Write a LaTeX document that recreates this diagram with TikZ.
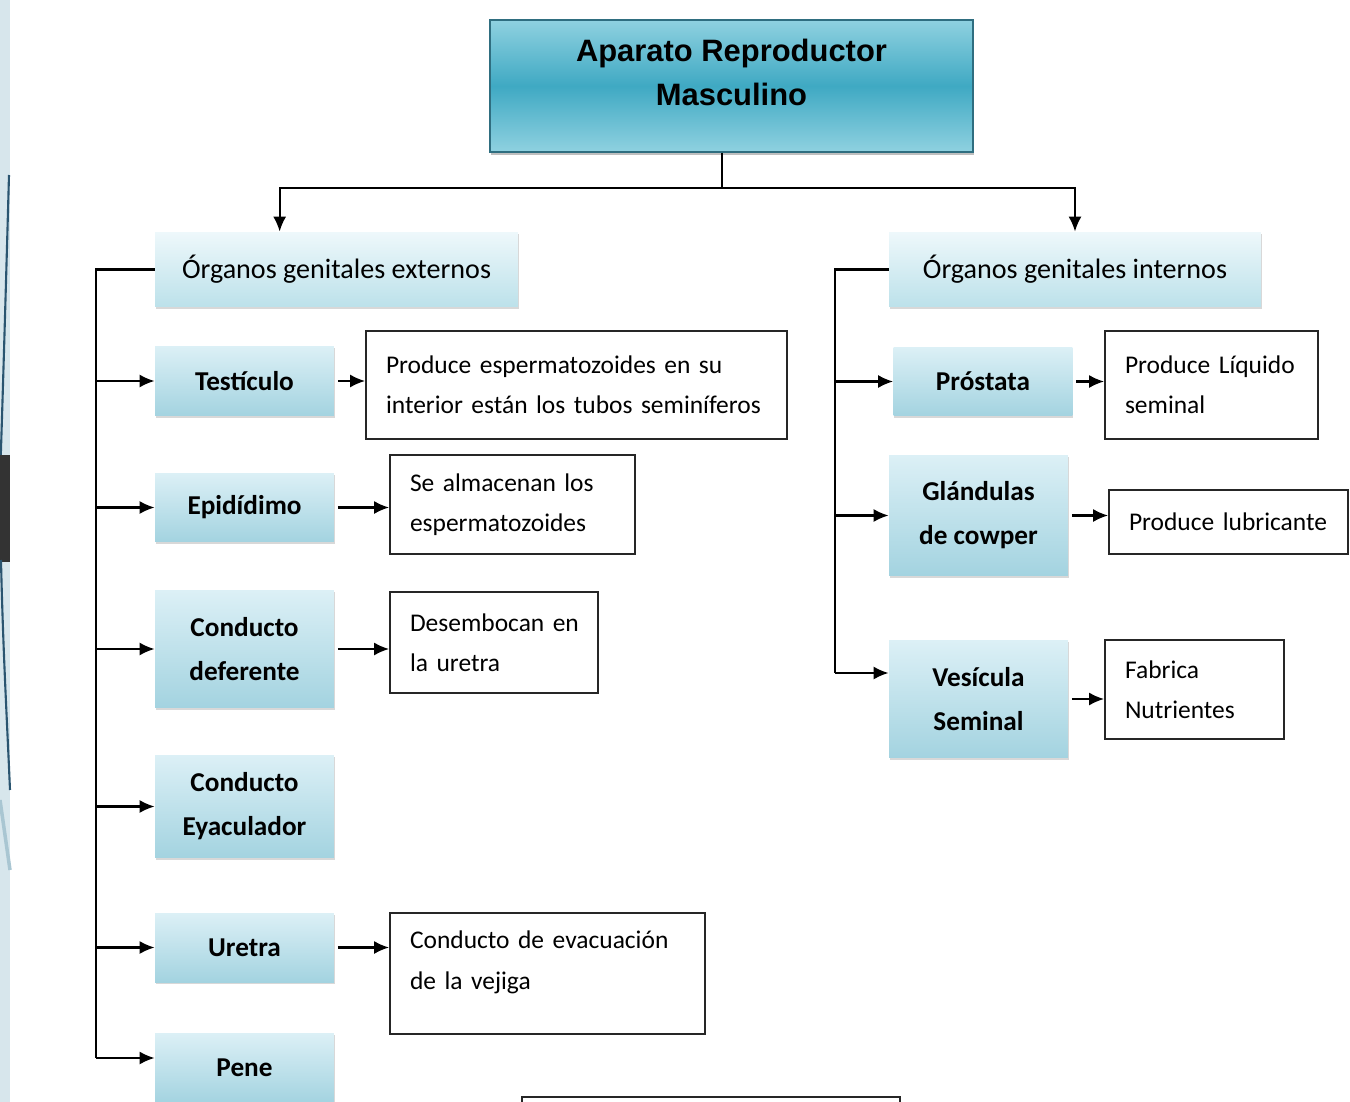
\documentclass[tikz,border=0pt]{standalone}
\usepackage{fontspec}
\setmainfont{Carlito}
\newfontfamily\titlefont{Liberation Sans}
\usetikzlibrary{positioning,shadows,arrows.meta,calc}

\definecolor{titletop}{HTML}{8FD1E0}
\definecolor{titlemid}{HTML}{3FA9C3}
\definecolor{titleedge}{HTML}{2F6E80}
\definecolor{itemtop}{HTML}{DCF0F6}
\definecolor{itembot}{HTML}{A3D3E0}
\definecolor{grouptop}{HTML}{EEF8FB}
\definecolor{groupbot}{HTML}{BCE1EA}
\definecolor{decolight}{HTML}{D7E6EC}
\definecolor{deconavy}{HTML}{2A5570}
\definecolor{decodark}{HTML}{333333}
\definecolor{decomid}{HTML}{A9C6D2}

\begin{document}
\begin{tikzpicture}[x=0.02cm,y=-0.02cm,
    arr/.style={-{Latex[length=3mm,width=2.6mm]},line width=1.2pt},
    bus/.style={line width=1.2pt},
    titlebox/.style={draw=titleedge,line width=0.8pt,top color=titletop,bottom color=titletop,
      middle color=titlemid,minimum width=9.66cm,minimum height=2.64cm,align=center,
      font=\titlefont\bfseries\fontsize{17.6}{25.5}\selectfont,
      drop shadow={shadow xshift=0.6pt,shadow yshift=-1.5pt,fill=black!50}},
    groupbox/.style={top color=grouptop,bottom color=groupbot,minimum height=1.5cm,
      font=\fontsize{16}{24}\selectfont,
      drop shadow={shadow xshift=0.5pt,shadow yshift=-1.2pt,fill=black!30}},
    itembox/.style={top color=itemtop,bottom color=itembot,minimum width=3.58cm,align=center,
      font=\bfseries\fontsize{15.5}{25}\selectfont,
      drop shadow={shadow xshift=0.5pt,shadow yshift=-1.2pt,fill=black!30}},
    descbox/.style={draw=black!85,line width=1pt,fill=white,inner xsep=0.4cm,
      text width=#1,align=left,font=\fontsize{14.5}{23}\selectfont}
  ]
  \useasboundingbox (0,0) rectangle (1350,1102);
  \fill[white] (0,0) rectangle (1350,1102);
  % slide edge
  \fill[decolight] (0,0) rectangle (10,1102);
  \draw[deconavy,line width=1.2pt] (9,175) .. controls (5,320) and (2,420) .. (0,480);
  \fill[decodark] (0,455) rectangle (10,562);
  \draw[deconavy,line width=1.2pt] (1,560) .. controls (3,650) and (7,720) .. (10,790);
  \draw[decomid,line width=2pt] (0,800) -- (10,870);

  \node[titlebox] (title) at (731.5,86) {Aparato Reproductor\\Masculino\\[-10pt]\mbox{}};
  \node[groupbox,minimum width=7.26cm] (ext) at (336.5,269.5) {Órganos genitales externos};
  \node[groupbox,minimum width=7.44cm] (int) at (1075,269.5) {Órganos genitales internos};

  \node[itembox,minimum height=1.4cm]  (tes) at (244.5,381)   {Testículo};
  \node[itembox,minimum height=1.38cm] (epi) at (244.5,507.5) {Epidídimo};
  \node[itembox,minimum height=2.36cm] (def) at (244.5,649)   {Conducto\\deferente};
  \node[itembox,minimum height=2.06cm] (eya) at (244.5,806.5) {Conducto\\Eyaculador};
  \node[itembox,minimum height=1.38cm] (ure) at (244.5,947.5) {Uretra};
  \node[itembox,minimum height=1.4cm]  (pen) at (244.5,1068)  {Pene};

  \node[itembox,minimum height=1.38cm] (pro) at (983,381.5)   {Próstata};
  \node[itembox,minimum height=2.42cm] (gla) at (978.5,515.5) {Glándulas\\de cowper};
  \node[itembox,minimum height=2.36cm] (ves) at (978.5,699)   {Vesícula\\Seminal};

  \node[descbox=7.62cm,minimum height=2.16cm] (tesd) at (576.5,385)
    {\mbox{Produce espermatozoides en su}\\\mbox{interior están los tubos seminíferos}};
  \node[descbox=4.1cm,minimum height=1.98cm] (epid) at (512.5,504.5)
    {\mbox{Se almacenan los}\\\mbox{espermatozoides}};
  \node[descbox=3.36cm,minimum height=2.02cm] (defd) at (494,642.5)
    {\mbox{Desembocan en}\\\mbox{la uretra}};
  \node[descbox=5.5cm,minimum height=2.42cm] (ured) at (547.5,973.5)
    {\mbox{Conducto de evacuación}\\\mbox{de la vejiga}\\[-8pt]\mbox{}};
  \node[descbox=3.46cm,minimum height=2.16cm] (prod) at (1211.5,385)
    {\mbox{Produce Líquido}\\\mbox{seminal}};
  \node[descbox=3.98cm,minimum height=1.28cm] (glad) at (1228.5,522)
    {\mbox{Produce lubricante}};
  \node[descbox=2.78cm,minimum height=1.98cm] (fabd) at (1194.5,689.5)
    {\mbox{Fabrica}\\\mbox{Nutrientes}};
  \node[descbox=6.76cm,minimum height=2cm] (bottom) at (711,1147) {};

  % tree
  \coordinate (split) at (722,188);
  \draw[bus] (title.south -| split) -- (split);
  \draw[arr] (split) -| ([xshift=2.5cm]ext.north west);
  \draw[arr] (split) -| (int.north);

  \coordinate (busl) at (96,0);
  \coordinate (penin) at ($(pen.west)+(0,-10)$);
  \draw[bus] (ext.west) -| (busl |- penin);
  \foreach \n in {tes,epi,def,eya,ure}
    \draw[arr] (busl |- \n.west) -- (\n.west);
  \draw[arr] (busl |- penin) -- (penin);

  \coordinate (busr) at (835,0);
  \coordinate (vesin) at ($(ves.west)+(0,-26)$);
  \draw[bus] (int.west) -| (busr |- vesin);
  \foreach \n in {pro,gla}
    \draw[arr] (busr |- \n.west) -- (\n.west);
  \draw[arr] (busr |- vesin) -- (vesin);

  \foreach \a/\b in {tes/tesd,epi/epid,def/defd,ure/ured,pro/prod,gla/glad,ves/fabd}
    \draw[arr,shorten <=2pt] (\a.east) -- (\a.east -| \b.west);
\end{tikzpicture}
\end{document}
